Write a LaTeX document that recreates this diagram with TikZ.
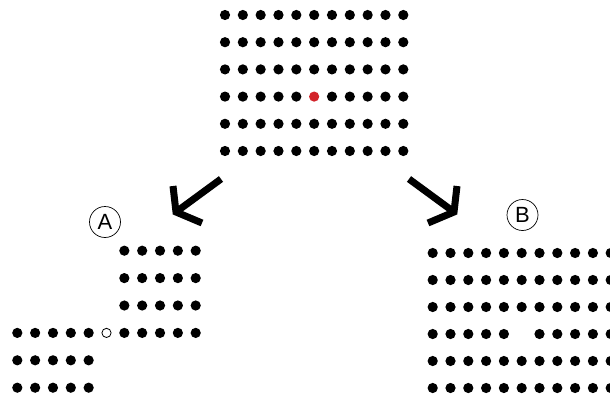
\documentclass[tikz,border=0pt]{standalone}
\usepackage{fontspec}
\setmainfont{Liberation Sans}
\definecolor{dotred}{HTML}{D2232A}
\begin{document}
\begin{tikzpicture}[x=1pt,y=-1pt,
  dotfill/.style={fill=black},
  reddot/.style={fill=dotred},
  holedot/.style={draw=black,line width=0.8pt,fill=white},
  bigarrow/.style={line width=7pt,line join=miter,line cap=butt,draw=black},
  circlabel/.style={circle,draw=black,line width=0.7pt,minimum size=31pt,inner sep=0pt,font=\fontsize{22}{22}\selectfont}
]
\useasboundingbox (0,0) rectangle (610,396);
\clip (0,0) rectangle (610,396);
\def\rr{5.1}
% top grid
\foreach \r in {0,...,5}{
  \foreach \c in {0,...,10}{
    \pgfmathsetmacro\xx{225+17.83*\c}
    \pgfmathsetmacro\yy{15+27.2*\r}
    \ifnum\r=3 \ifnum\c=5
      \fill[reddot] (\xx,\yy) circle (\rr);
    \else
      \fill[dotfill] (\xx,\yy) circle (\rr);
    \fi
    \else
      \fill[dotfill] (\xx,\yy) circle (\rr);
    \fi
  }
}
% grid A
\foreach \r in {0,...,5}{
  \foreach \c in {0,...,10}{
    \pgfmathsetmacro\xx{17.3+17.84*\c}
    \pgfmathsetmacro\yy{250.7+27.4*\r}
    \pgfmathtruncatemacro\show{((\c>5)&&(\r<4)) || ((\c<5)&&(\r>2)) ? 1 : 0}
    \ifnum\show=1
      \fill[dotfill] (\xx,\yy) circle (\rr);
    \fi
  }
}
\draw[holedot] (106.5,332.9) circle (4.6);
% grid B
\foreach \r in {0,...,5}{
  \foreach \c in {0,...,10}{
    \pgfmathsetmacro\xx{432.7+17.8*\c}
    \pgfmathsetmacro\yy{253+27*\r}
    \pgfmathtruncatemacro\show{((\r==3)&&(\c==5)) ? 0 : 1}
    \ifnum\show=1
      \fill[dotfill] (\xx,\yy) circle (\rr);
    \fi
  }
}
% arrows
\coordinate (la0) at (221,179);
\coordinate (lat) at (176,212);
\coordinate (la1) at (173,186);
\coordinate (la2) at (202,223);
\draw[bigarrow] (la0) -- (lat);
\draw[bigarrow] (la1) -- (lat) -- (la2);
\coordinate (ra0) at (409,179);
\coordinate (rat) at (454,212);
\coordinate (ra1) at (457,186);
\coordinate (ra2) at (428,223);
\draw[bigarrow] (ra0) -- (rat);
\draw[bigarrow] (ra1) -- (rat) -- (ra2);
% labels
\node[circlabel] (labA) at (105,222) {A};
\node[circlabel] (labB) at (522.5,215) {B};
\end{tikzpicture}
\end{document}
